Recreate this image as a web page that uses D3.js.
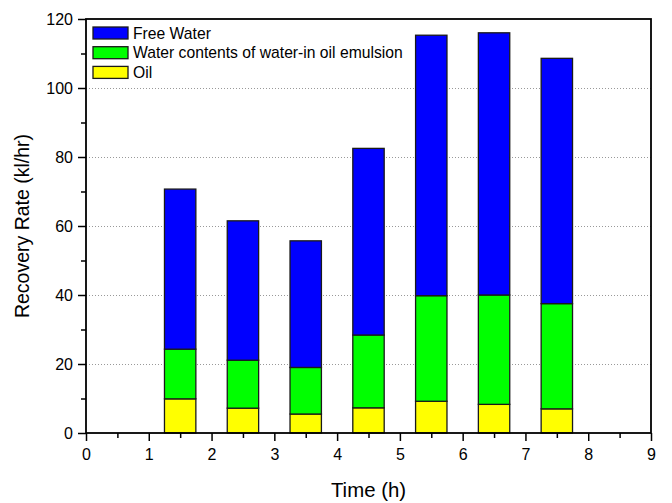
<!DOCTYPE html>
<html>
<head>
<meta charset="utf-8">
<script src="https://cdn.jsdelivr.net/npm/d3@7"></script>
<style>
  body { margin: 0; background: white; }
  text { font-family: "Liberation Sans", Arial, sans-serif; fill: #000; }
</style>
</head>
<body>
<div id="chart"></div>
<script>
// data
var times = [1.5, 2.5, 3.5, 4.5, 5.5, 6.5, 7.5];
var oil = [9.9, 7.2, 5.5, 7.3, 9.2, 8.3, 7.0];
var emulsion = [14.4, 13.9, 13.5, 21.1, 30.6, 31.7, 30.5];
var freeWater = [46.4, 40.4, 36.7, 54.1, 75.5, 76.0, 71.1];
var seriesNames = ["Free Water", "Water contents of water-in oil emulsion", "Oil"];
var seriesCols = ["#0000ff", "#00ff00", "#ffff00"];
var xTicks = [0, 1, 2, 3, 4, 5, 6, 7, 8, 9];
var yTicks = [0, 20, 40, 60, 80, 100, 120];

var width = 672, height = 503;
var margin = {left: 86, right: 21, top: 19, bottom: 70};

var svg = d3.select("#chart").append("svg")
    .attr("width", width)
    .attr("height", height);

var x = d3.scaleLinear().domain([0, 9]).range([margin.left, width - margin.right]);
var y = d3.scaleLinear().domain([0, 120]).range([height - margin.bottom, margin.top]);

var rows = times.map(function(t, i) {
  return {t: t, oil: oil[i], emulsion: emulsion[i], free: freeWater[i]};
});
var stack = d3.stack().keys(["oil", "emulsion", "free"]);
var layers = stack(rows);
var keyCol = {oil: "#ffff00", emulsion: "#00ff00", free: "#0000ff"};

// grid lines
svg.append("g").selectAll("line")
    .data([20, 40, 60, 80, 100])
    .enter().append("line")
    .attr("x1", x(0)).attr("x2", x(9))
    .attr("y1", function(d) { return y(d) + 0.5; })
    .attr("y2", function(d) { return y(d) + 0.5; })
    .attr("stroke", "#999")
    .attr("stroke-width", 1)
    .attr("stroke-dasharray", "1,2");

// bars
var barW = x(0.5) - x(0);
svg.append("g").selectAll("g")
    .data(layers)
    .enter().append("g")
    .attr("fill", function(d) { return keyCol[d.key]; })
    .selectAll("rect")
    .data(function(d) { return d; })
    .enter().append("rect")
    .attr("x", function(d) { return x(d.data.t) - barW / 2; })
    .attr("width", barW)
    .attr("y", function(d) { return y(d[1]); })
    .attr("height", function(d) { return y(d[0]) - y(d[1]); })
    .attr("stroke", "#1a1a1a")
    .attr("stroke-width", 1.3);

// axes
var xAxis = d3.axisBottom(x).tickValues(xTicks).tickFormat(d3.format("d")).tickSize(8).tickPadding(8);
var xMinor = d3.axisBottom(x).tickValues(d3.range(0.5, 9, 1)).tickFormat("").tickSize(5);
var yAxis = d3.axisLeft(y).tickValues(yTicks).tickFormat(d3.format("d")).tickSize(8).tickPadding(5);
var yMinor = d3.axisLeft(y).tickValues(d3.range(10, 120, 20)).tickFormat("").tickSize(5);

function styleAxis(g) {
  g.select(".domain").remove();
  g.selectAll("line").attr("stroke", "#000").attr("stroke-width", 1.5);
  g.selectAll("text").style("font-size", "16px").style("font-family", "Liberation Sans, Arial, sans-serif");
}

svg.append("g").attr("transform", "translate(0," + y(0) + ")").call(xAxis).call(styleAxis);
svg.append("g").attr("transform", "translate(0," + y(0) + ")").call(xMinor).call(styleAxis);
svg.append("g").attr("transform", "translate(" + x(0) + ",0)").call(yAxis).call(styleAxis);
svg.append("g").attr("transform", "translate(" + x(0) + ",0)").call(yMinor).call(styleAxis);

// frame
svg.append("rect")
    .attr("x", x(0)).attr("y", y(120))
    .attr("width", x(9) - x(0)).attr("height", y(0) - y(120))
    .attr("fill", "none").attr("stroke", "#000").attr("stroke-width", 1.8);

// axis titles
svg.append("text")
    .attr("x", (x(0) + x(9)) / 2).attr("y", 497)
    .attr("text-anchor", "middle")
    .style("font-size", "20.4px")
    .text("Time (h)");

svg.append("text")
    .attr("transform", "translate(29," + ((y(0) + y(120)) / 2) + ") rotate(-90)")
    .attr("text-anchor", "middle")
    .style("font-size", "19.5px")
    .text("Recovery Rate (kl/hr)");

// legend
var legend = svg.append("g").selectAll("g")
    .data(seriesNames)
    .enter().append("g")
    .attr("transform", function(d, i) { return "translate(93," + (27 + i * 19.7) + ")"; });
legend.append("rect")
    .attr("width", 35).attr("height", 12)
    .attr("fill", function(d, i) { return seriesCols[i]; })
    .attr("stroke", "#1a1a1a").attr("stroke-width", 1.3);
legend.append("text")
    .attr("x", 40).attr("y", 11.5)
    .style("font-size", "15.7px")
    .text(function(d) { return d; });
</script>
</body>
</html>
